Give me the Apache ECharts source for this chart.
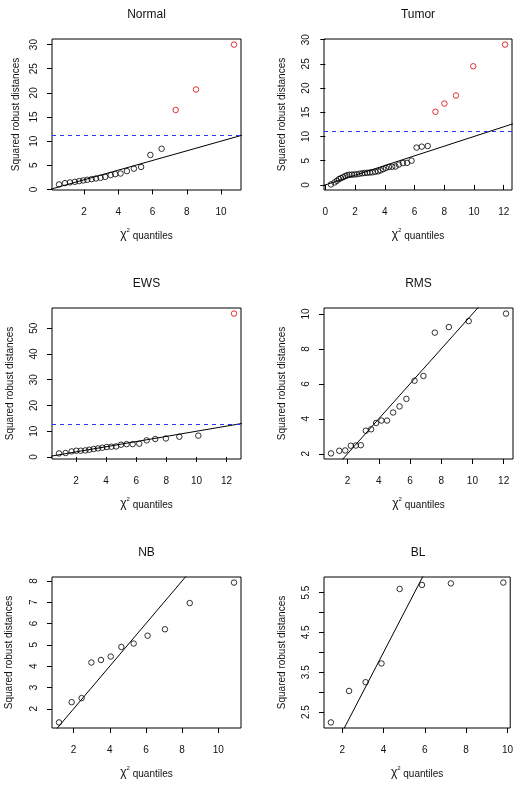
<!DOCTYPE html>
<html>
<head>
<meta charset="utf-8">
<script src="https://cdn.jsdelivr.net/npm/echarts@6/dist/echarts.min.js"></script>
<style>
  html, body { margin: 0; padding: 0; background: #fff; }
  #chart { width: 516px; height: 795px; }
</style>
</head>
<body>
<div id="chart"></div>
<script>
// panel titles
const panelNames = ['Normal', 'Tumor', 'EWS', 'RMS', 'NB', 'BL']

// chi-square quantiles (x) and squared robust distances (y)
const normalX = [0.53, 0.88, 1.17, 1.46, 1.71, 1.95, 2.18, 2.44, 2.69, 2.96, 3.23, 3.55, 3.82, 4.13, 4.5, 4.91, 5.33, 5.87, 6.53]
const normalY = [1.04, 1.3, 1.45, 1.58, 1.72, 1.86, 2.0, 2.14, 2.27, 2.41, 2.6, 2.97, 3.17, 3.3, 3.8, 4.3, 4.65, 7.15, 8.42]
const normalOutX = [7.35, 8.54, 10.76]
const normalOutY = [16.45, 20.7, 30.0]

const tumorX = [0.38, 0.62, 0.78, 0.92, 1.05, 1.2, 1.35, 1.48, 1.62, 1.78, 1.95, 2.12, 2.3, 2.48, 2.65, 2.82, 3.0, 3.18, 3.36, 3.55, 3.72, 3.9, 4.08, 4.28, 4.5, 4.72, 4.95, 5.22, 5.5, 5.8, 6.14, 6.49, 6.89]
const tumorY = [0.1, 0.5, 0.85, 1.2, 1.4, 1.6, 1.85, 2.0, 2.1, 2.12, 2.15, 2.2, 2.3, 2.4, 2.45, 2.5, 2.55, 2.6, 2.7, 2.8, 3.0, 3.25, 3.5, 3.7, 3.75, 3.8, 4.2, 4.5, 4.55, 5.0, 7.7, 7.9, 8.03]
const tumorOutX = [7.41, 8.01, 8.79, 9.95, 12.09]
const tumorOutY = [15.1, 16.8, 18.46, 24.5, 28.98]

const ewsX = [0.87, 1.31, 1.71, 2.02, 2.31, 2.62, 2.88, 3.17, 3.46, 3.75, 4.04, 4.35, 4.66, 4.99, 5.36, 5.76, 6.2, 6.69, 7.26, 7.97, 8.86, 10.12]
const ewsY = [1.4, 1.55, 2.17, 2.44, 2.44, 2.56, 2.83, 3.1, 3.33, 3.6, 3.88, 3.99, 4.1, 4.77, 5.0, 5.0, 5.16, 6.46, 6.98, 7.2, 7.87, 8.3]
const ewsOutX = [12.49]
const ewsOutY = [55.66]

const rmsX = [0.94, 1.47, 1.85, 2.21, 2.53, 2.85, 3.17, 3.51, 3.83, 4.17, 4.53, 4.92, 5.33, 5.77, 6.29, 6.86, 7.59, 8.49, 9.76, 12.15]
const rmsY = [2.02, 2.17, 2.19, 2.46, 2.47, 2.49, 3.32, 3.4, 3.76, 3.9, 3.9, 4.36, 4.71, 5.14, 6.18, 6.45, 8.93, 9.25, 9.59, 10.02]

const nbX = [1.19, 1.89, 2.44, 2.98, 3.51, 4.05, 4.64, 5.32, 6.09, 7.05, 8.42, 10.87]
const nbY = [1.36, 2.31, 2.5, 4.17, 4.29, 4.45, 4.9, 5.06, 5.43, 5.73, 6.96, 7.92]

const blX = [1.45, 2.33, 3.13, 3.9, 4.78, 5.86, 7.26, 9.8]
const blY = [2.24, 3.03, 3.25, 3.72, 5.59, 5.69, 5.73, 5.75]

// 97.5% chi-square cut-off lines (dashed)
const cutoffs = [11.14, 11.14, 12.8, null, null, null]

// tick positions and labels
const xTicks = [
  [2, 4, 6, 8, 10],
  [0, 2, 4, 6, 8, 10, 12],
  [2, 4, 6, 8, 10, 12],
  [2, 4, 6, 8, 10, 12],
  [2, 4, 6, 8, 10],
  [2, 4, 6, 8, 10]
]
const yTicks = [
  [0, 5, 10, 15, 20, 25, 30],
  [0, 5, 10, 15, 20, 25, 30],
  [0, 10, 20, 30, 40, 50],
  [2, 4, 6, 8, 10],
  [2, 3, 4, 5, 6, 7, 8],
  [2.5, 3, 3.5, 4, 4.5, 5, 5.5]
]
const yLabels = [
  [0, 5, 10, 15, 20, 25, 30],
  [0, 5, 10, 15, 20, 25, 30],
  [0, 10, 20, 30, 40, 50],
  [2, 4, 6, 8, 10],
  [2, 3, 4, 5, 6, 7, 8],
  [2.5, 3.5, 4.5, 5.5]
]

const panels = [
  { x: normalX, y: normalY, ox: normalOutX, oy: normalOutY },
  { x: tumorX, y: tumorY, ox: tumorOutX, oy: tumorOutY },
  { x: ewsX, y: ewsY, ox: ewsOutX, oy: ewsOutY },
  { x: rmsX, y: rmsY, ox: [], oy: [] },
  { x: nbX, y: nbY, ox: [], oy: [] },
  { x: blX, y: blY, ox: [], oy: [] }
]

// plot boxes: [left, top, width, height]
const boxes = [
  [52, 39, 189, 151],
  [324, 39, 188, 151],
  [52, 308, 189, 151],
  [324, 308, 189, 151],
  [52, 577, 189, 151],
  [324, 577, 188, 151]
]
const yNameGaps = [31, 37, 37, 37, 38, 37]

const font = 'Liberation Sans, Arial, Helvetica, sans-serif'
const cutColor = '#3030f0'

// R style: data range padded by 4% on each side
function padRange(arr) {
  const lo = Math.min(...arr)
  const hi = Math.max(...arr)
  const d = (hi - lo) * 0.04
  return [lo - d, hi + d]
}

const chart = echarts.init(document.getElementById('chart'))

const grids = []
const xAxes = []
const yAxes = []
const titles = []
const series = []

panels.forEach((p, i) => {
  const b = boxes[i]
  const xr = padRange(p.x.concat(p.ox))
  const yr = padRange(p.y.concat(p.oy))

  grids.push({
    left: b[0], top: b[1], width: b[2], height: b[3],
    show: true, borderColor: '#000', borderWidth: 1, backgroundColor: 'transparent'
  })

  titles.push({
    text: panelNames[i],
    left: b[0] + b[2] / 2,
    top: b[1] - 30,
    textAlign: 'center',
    padding: 0,
    textStyle: { fontFamily: font, fontSize: 12, fontWeight: 'normal', color: '#111' }
  })

  xAxes.push({
    type: 'value', gridIndex: i, min: xr[0], max: xr[1],
    name: '{g|χ}{s|2}{t| quantiles}', nameLocation: 'middle', nameGap: 37,
    nameTextStyle: {
      fontFamily: font, fontSize: 10, color: '#111',
      rich: {
        g: { fontFamily: font, fontSize: 12, color: '#111', lineHeight: 14, verticalAlign: 'bottom' },
        s: { fontFamily: font, fontSize: 6, color: '#111', lineHeight: 14, verticalAlign: 'top' },
        t: { fontFamily: font, fontSize: 10, color: '#111', lineHeight: 14, verticalAlign: 'bottom' }
      }
    },
    axisLine: { show: false },
    splitLine: { show: false },
    axisTick: { show: true, length: 5, customValues: xTicks[i], lineStyle: { color: '#000' } },
    axisLabel: { customValues: xTicks[i], margin: 17, fontFamily: font, fontSize: 10, color: '#111' }
  })

  yAxes.push({
    type: 'value', gridIndex: i, min: yr[0], max: yr[1],
    name: 'Squared robust distances', nameLocation: 'middle', nameGap: yNameGaps[i],
    nameTextStyle: { fontFamily: font, fontSize: 10, color: '#111' },
    axisLine: { show: false },
    splitLine: { show: false },
    axisTick: { show: true, length: 5, customValues: yTicks[i], lineStyle: { color: '#000' } },
    axisLabel: { customValues: yLabels[i], rotate: 90, margin: 13, fontFamily: font, fontSize: 10, color: '#111' }
  })

  const pts = p.x.map((v, k) => [v, p.y[k]])
  series.push({
    type: 'scatter', xAxisIndex: i, yAxisIndex: i, data: pts,
    symbol: 'circle', symbolSize: 5.5, silent: true,
    itemStyle: { color: 'transparent', borderColor: '#000', borderWidth: 1 }
  })

  if (p.ox.length) {
    series.push({
      type: 'scatter', xAxisIndex: i, yAxisIndex: i,
      data: p.ox.map((v, k) => [v, p.oy[k]]),
      symbol: 'circle', symbolSize: 5.5, silent: true,
      itemStyle: { color: 'transparent', borderColor: '#d40000', borderWidth: 1 }
    })
  }

  // reference line y = x, clipped to the plot box
  const lo = Math.min(xr[0], yr[0])
  const hi = Math.max(xr[1], yr[1])
  const ref = {
    type: 'line', xAxisIndex: i, yAxisIndex: i, clip: true,
    data: [[lo, lo], [hi, hi]], symbol: 'none', silent: true,
    color: '#000',
    lineStyle: { color: '#000', width: 1 }
  }
  if (cutoffs[i] != null) {
    ref.markLine = {
      silent: true, symbol: 'none', animation: false, z: 10,
      label: { show: false },
      lineStyle: { color: cutColor, type: [4, 4], width: 1 },
      data: [{ yAxis: cutoffs[i], lineStyle: { color: cutColor } }]
    }
  }
  series.push(ref)
})

chart.setOption({
  animation: false,
  backgroundColor: '#fff',
  title: titles,
  grid: grids,
  xAxis: xAxes,
  yAxis: yAxes,
  series: series
})
</script>
</body>
</html>
